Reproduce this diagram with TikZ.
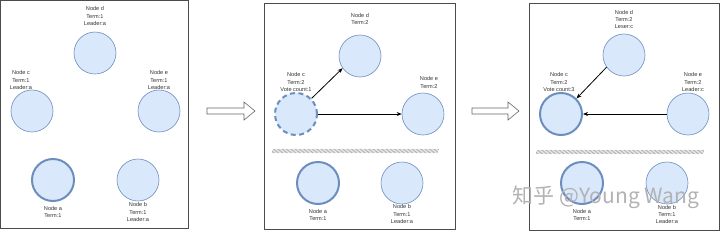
\documentclass[tikz,border=0pt]{standalone}
\usepackage{fontspec}
\setmainfont{Liberation Sans}
\newfontfamily\cjkfont{Noto Sans CJK SC}
\usetikzlibrary{arrows.meta}
\tikzset{
  circ/.style={circle, draw=nodeline, fill=nodefill, line width=0.6pt, minimum size=42pt, inner sep=0pt},
  leader/.style={circ, line width=2pt},
  cand/.style={circ, line width=2pt, dash pattern=on 5pt off 3.5pt},
  lbl/.style={align=center, font=\fontsize{5.6}{7.4}\selectfont, text=black!80, inner sep=0pt},
  frame/.style={draw=black!70, line width=0.7pt},
  vote/.style={-{Stealth[length=5pt,width=4pt]}, line width=0.8pt, black},
  hollow/.style={draw=black!60, fill=white, line width=0.6pt},
  hatch/.style={draw=black!45, line width=0.35pt}
}
\definecolor{nodefill}{HTML}{DAE8FC}
\definecolor{nodeline}{HTML}{6C8EBF}
\begin{document}
\begin{tikzpicture}[x=1pt,y=-1pt]
\useasboundingbox (0,0) rectangle (720,231);
% frames
\draw[frame] (0.5,0.5) rectangle (188,228);
\draw[frame] (264,3) rectangle (455,229);
\draw[frame] (529,3) rectangle (719,230);

% hollow arrows
\draw[hollow] (207,108) -- (244,108) -- (244,102) -- (255,111) -- (244,120) -- (244,114) -- (207,114) -- cycle;
\draw[hollow] (472,108) -- (508,108) -- (508,102) -- (519,111) -- (508,120) -- (508,114) -- (472,114) -- cycle;

% ---- panel 1
\node[circ] (d1) at (95,53) {};
\node[circ] (c1) at (32,111) {};
\node[circ] (e1) at (159,111) {};
\node[leader] (a1) at (53,180) {};
\node[circ] (b1) at (138,180) {};
\node[lbl] (ld1) at (95,16) {Node d\\Term:1\\Leader:a};
\node[lbl] (lc1) at (21,80) {Node c\\Term:1\\Leader:a};
\node[lbl] (le1) at (159,80) {Node e\\Term:1\\Leader:a};
\node[lbl] (la1) at (53,212) {Node a\\Term:1};
\node[lbl] (lb1) at (138,212) {Node b\\Term:1\\Leader:a};

% ---- panel 2
\node[circ] (d2) at (360,56) {};
\node[cand] (c2) at (296,114) {};
\node[circ] (e2) at (423,114) {};
\node[leader] (a2) at (318,183) {};
\node[circ] (b2) at (402,183) {};
\node[lbl] (ld2) at (360,19) {Node d\\Term:2};
\node[lbl] (lc2) at (296,82) {Node c\\Term:2\\Vote count:1};
\node[lbl] (le2) at (429,82.5) {Node e\\Term:2};
\node[lbl] (la2) at (318,215) {Node a\\Term:1};
\node[lbl] (lb2) at (402,214) {Node b\\Term:1\\Leader:a};
\draw[vote] (c2.45) -- (d2.215);
\draw[vote] (c2.east) -- (e2.west);
\foreach \x in {272,273.3,...,438} \draw[hatch] (\x,153) -- (\x+1.5,149);

% ---- panel 3
\node[circ] (d3) at (624,55) {};
\node[leader] (c3) at (561,114) {};
\node[circ] (e3) at (688,114) {};
\node[leader] (a3) at (582,183) {};
\node[circ] (b3) at (667,183) {};
\node[lbl] (ld3) at (624,19.5) {Node d\\Term:2\\Leser:c};
\node[lbl] (lc3) at (559,82) {Node c\\Term:2\\Vote count:3};
\node[lbl] (le3) at (693,82) {Node e\\Term:2\\Leader:c};
\node[lbl] (la3) at (582,215) {Node a\\Term:1};
\node[lbl] (lb3) at (667,214.5) {Node b\\Term:1\\Leader:a};
\draw[vote] (d3.215) -- (c3.45);
\draw[vote] (e3.west) -- (c3.east);
\foreach \x in {536,537.3,...,703} \draw[hatch] (\x,154) -- (\x+1.5,150);

% watermark
\node[inner sep=0pt, text=black!30, font=\cjkfont\fontsize{21}{21}\selectfont] (wm) at (606,197) {知乎 @Young Wang};
\end{tikzpicture}
\end{document}
